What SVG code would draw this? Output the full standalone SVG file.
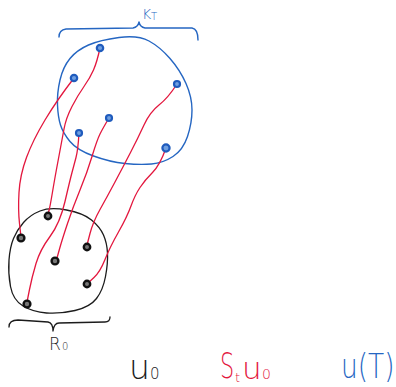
<svg xmlns="http://www.w3.org/2000/svg" width="396" height="387" viewBox="0 0 396 387">
  <style>
    .blue { stroke: #2566c2; fill: none; stroke-width: 1.4; stroke-linecap: round; stroke-linejoin: round; }
    .ink { stroke: #1c1c1c; fill: none; stroke-width: 1.3; stroke-linecap: round; stroke-linejoin: round; }
    .red { stroke: #e3173e; fill: none; stroke-width: 1.3; stroke-linecap: round; stroke-linejoin: round; }
    .bdot { fill: #6f9fe0; stroke: #1f5bbd; stroke-width: 2.2; }
    .kdot { fill: #777; stroke: #111; stroke-width: 2.4; }
    .lbl { font-family: "DejaVu Sans", "Liberation Sans", sans-serif; font-weight: 200; }
  </style>
  <rect width="396" height="387" fill="#ffffff"/>

  <!-- target set K_T -->
  <g id="set-KT">
    <path class="blue" d="M149,41 Q138,35 119,37.5 Q100,40 88.5,45 Q77,50 70,58.5 Q63,67 60,80 Q57,93 57.5,105 Q58,117 60.5,125 Q63,133 70,141.5 Q77,150 93.5,156 Q110,162 125,163.5 Q140,165 151.5,164 Q163,163 173,156.5 Q183,150 187.5,136.5 Q192,123 192,110 Q192,97 186,83.5 Q180,70 170,58.5 Q160,47 149,41 Z"/>
    <path class="blue" d="M59,37 Q59,30 66,29 L133,28 Q138,27 139,22 Q140,27 145,28 L192,28 Q198,29 198,40"/>
    <text class="lbl" x="142" y="19" font-size="14" fill="#2566c2">K<tspan x="151" y="20" font-size="10">T</tspan></text>
  </g>

  <!-- initial set R_0 -->
  <g id="set-R0">
    <path class="ink" d="M40,211 Q50,207 66.5,210 Q83,213 91.5,220 Q100,227 103.5,235 Q107,243 107.5,253 Q108,263 105.5,276.5 Q103,290 96.5,298.5 Q90,307 75,310.5 Q60,314 46.5,313 Q33,312 23,306 Q13,300 10.5,286.5 Q8,273 9,260 Q10,247 13.5,238.5 Q17,230 23.5,222.5 Q30,215 40,211 Z"/>
    <path class="ink" d="M9,327 Q9,320 18,320 L48,322 Q53,323 53,331 Q54,323 59,323 L105,322 Q110,322 110,317"/>
    <text class="lbl" x="49" y="350" font-size="17" fill="#1c1c1c">R<tspan x="62" y="350" font-size="10">0</tspan></text>
  </g>

  <!-- trajectories -->
  <g id="connectors">
    <path class="red" d="M74,78 Q57,100 45,120 Q33,140 26.5,157.5 Q20,175 19,192.5 Q18,210 19.5,223.5 L21,237"/>
    <path class="red" d="M100,48 Q97,62 93.5,70 Q90,78 84,86.5 Q78,95 72,106.5 Q66,118 64,129 Q62,140 58.5,158.5 Q55,177 52.5,192 Q50,207 49,210.5 L48,214"/>
    <path class="red" d="M79,133 Q78,150 76,157.5 Q74,165 72,172.5 Q70,180 65,201.5 Q60,223 50,236.5 Q40,250 36,263.5 Q32,277 29.5,289.5 L27,302"/>
    <path class="red" d="M109,118 Q103,128 100,134 Q97,140 92,156.5 Q87,173 80,190 Q73,207 67.5,223.5 Q62,240 59.5,249 L57,258"/>
    <path class="red" d="M177,84 Q168,98 159,105 Q150,112 144,125 Q138,138 130.5,152.5 Q123,167 115,182 Q107,197 100,209.5 Q93,222 90,233.5 L87,245"/>
    <path class="red" d="M166,148 Q160,165 152.5,172.5 Q145,180 140,187.5 Q135,195 131,206 Q127,217 118.5,232 Q110,247 105,259.5 Q100,272 94,277.5 L88,283"/>
  </g>

  <!-- end points in K_T -->
  <g id="points-KT">
    <circle class="bdot" cx="100" cy="48" r="3.2"/>
    <circle class="bdot" cx="74" cy="78" r="3.2"/>
    <circle class="bdot" cx="177" cy="84" r="3"/>
    <circle class="bdot" cx="109" cy="118" r="3"/>
    <circle class="bdot" cx="79" cy="133" r="3"/>
    <circle class="bdot" cx="166" cy="148" r="3.6"/>
  </g>

  <!-- start points in R_0 -->
  <g id="points-R0">
    <circle class="kdot" cx="48" cy="216" r="3.2"/>
    <circle class="kdot" cx="21" cy="238" r="3.4"/>
    <circle class="kdot" cx="87" cy="247" r="3.2"/>
    <circle class="kdot" cx="55" cy="261" r="3.4"/>
    <circle class="kdot" cx="87" cy="284" r="3.2"/>
    <circle class="kdot" cx="27" cy="304" r="3.4"/>
  </g>

  <!-- legend -->
  <g id="legend">
    <text class="lbl" x="129" y="379" font-size="33" fill="#1c1c1c">u<tspan x="150" y="379" font-size="15">0</tspan></text>
    <g fill="#e3173e">
      <text class="lbl" transform="translate(220,378) scale(0.62,1)" font-size="36">S</text>
      <text class="lbl" x="235" y="382" font-size="13">t</text>
      <text class="lbl" x="242" y="379" font-size="31">u<tspan x="262" y="379" font-size="14">0</tspan></text>
    </g>
    <text class="lbl" transform="translate(341,378) scale(0.8,1)" font-size="33" fill="#2566c2">u(T)</text>
  </g>
</svg>
